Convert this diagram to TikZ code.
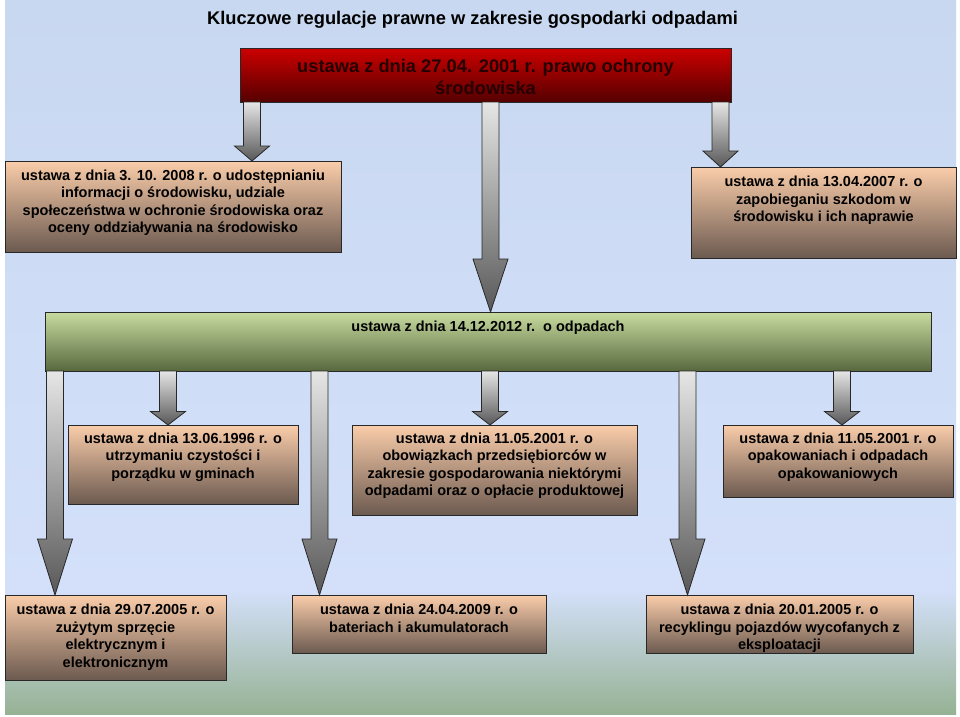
\documentclass[tikz,border=0pt]{standalone}
\usepackage{fontspec}
\setmainfont{Liberation Sans}
\usetikzlibrary{calc}
\definecolor{bgtop}{RGB}{200,216,240}
\definecolor{bgmid}{RGB}{212,224,250}
\definecolor{bgbot}{RGB}{150,178,148}
\definecolor{peachtop}{RGB}{250,205,170}
\definecolor{peachbot}{RGB}{108,90,80}
\definecolor{redtop}{RGB}{205,0,0}
\definecolor{redbot}{RGB}{85,0,0}
\definecolor{greentop}{RGB}{200,220,160}
\definecolor{greenbot}{RGB}{88,104,62}
\definecolor{edge}{RGB}{40,40,40}
\definecolor{arrtop}{RGB}{230,230,230}
\definecolor{arrbot}{RGB}{88,88,88}
\tikzset{
  boxbase/.style={draw=edge, line width=0.9pt, rectangle, inner sep=0pt, outer sep=0pt, anchor=north west},
  peachbox/.style={boxbase, top color=peachtop, bottom color=peachbot},
  redbox/.style={boxbase, top color=redtop, bottom color=redbot},
  greenbox/.style={boxbase, top color=greentop, bottom color=greenbot},
  txt/.style={anchor=north, align=center, inner sep=0pt, text=black, font=\bfseries\fontsize{14.5}{17.5}\selectfont},
  bigtxt/.style={anchor=north, align=center, inner sep=0pt, text=black!85!red, font=\bfseries\fontsize{18.3}{22}\selectfont},
  blkarr/.style={draw=edge, line width=0.8pt, top color=arrtop, bottom color=arrbot, line join=miter}
}
% #1 x, #2 source node, #3 target node, #4 head length
\newcommand\blkarrow[4]{%
  \path (#1,0) coordinate (ax);
  \path[blkarr] let \p1=(ax |- #2.south), \p2=(ax |- #3.north) in
    (\x1-8.5pt,\y1) -- (\x1-8.5pt,\y2+#4pt) -- (\x1-17.5pt,\y2+#4pt) -- (\x1,\y2)
    -- (\x1+17.5pt,\y2+#4pt) -- (\x1+8.5pt,\y2+#4pt) -- (\x1+8.5pt,\y1) -- cycle;
}
\begin{document}
\begin{tikzpicture}[x=1pt,y=-1pt]
\useasboundingbox (0,0) rectangle (960,716);
\fill[white] (0,0) rectangle (960,716);
\shade[top color=bgtop, bottom color=bgmid] (5,0) rectangle (956,590);
\shade[top color=bgmid, bottom color=bgbot] (5,589.5) rectangle (956,714);

\node[anchor=base, inner sep=0pt, font=\bfseries\fontsize{18.3}{22}\selectfont] (title) at (472.5,24.5)
  {Kluczowe regulacje prawne w zakresie gospodarki odpadami};

% boxes
\node[redbox, minimum width=491, minimum height=54] (red) at (240,48) {};
\node[bigtxt] (redt) at (red.north) [yshift=-11pt] {ustawa z dnia 27.04. 2001 r. prawo ochrony\\ środowiska};

\node[peachbox, minimum width=336, minimum height=91] (b1) at (5,161) {};
\node[txt] (b1t) at (b1.north) [yshift=-8.5pt] {ustawa z dnia 3. 10. 2008 r. o udostępnianiu\\ informacji o środowisku, udziale\\ społeczeństwa w ochronie środowiska oraz\\ oceny oddziaływania na środowisko};

\node[peachbox, minimum width=265, minimum height=91] (b2) at (691,167) {};
\node[txt] (b2t) at (b2.north) [yshift=-9pt] {ustawa z dnia 13.04.2007 r. o\\ zapobieganiu szkodom w\\ środowisku i ich naprawie};

\node[greenbox, minimum width=886, minimum height=59] (green) at (45,312) {};
\node[txt] (greent) at (green.north) [yshift=-9pt] {ustawa z dnia 14.12.2012 r.\ \ o odpadach};

\node[peachbox, minimum width=230, minimum height=79] (m1) at (68,425) {};
\node[txt] (m1t) at (m1.north) [yshift=-7.5pt] {ustawa z dnia 13.06.1996 r. o\\ utrzymaniu czystości i\\ porządku w gminach};

\node[peachbox, minimum width=285, minimum height=90] (m2) at (352,425) {};
\node[txt] (m2t) at (m2.north) [yshift=-7.5pt] {ustawa z dnia 11.05.2001 r. o\\ obowiązkach przedsiębiorców w\\ zakresie gospodarowania niektórymi\\ odpadami oraz o opłacie produktowej};

\node[peachbox, minimum width=230, minimum height=72] (m3) at (723,425) {};
\node[txt] (m3t) at (m3.north) [yshift=-7.5pt] {ustawa z dnia 11.05.2001 r. o\\ opakowaniach i odpadach\\ opakowaniowych};

\node[peachbox, minimum width=221, minimum height=85] (c1) at (5,595) {};
\node[txt] (c1t) at (c1.north) [yshift=-9pt] {ustawa z dnia 29.07.2005 r. o\\ zużytym sprzęcie\\ elektrycznym i\\ elektronicznym};

\node[peachbox, minimum width=254, minimum height=58] (c2) at (292,595) {};
\node[txt] (c2t) at (c2.north) [yshift=-9pt] {ustawa z dnia 24.04.2009 r. o\\ bateriach i akumulatorach};

\node[peachbox, minimum width=267, minimum height=58] (c3) at (646,595) {};
\node[txt] (c3t) at (c3.north) [yshift=-9pt] {ustawa z dnia 20.01.2005 r. o\\ recyklingu pojazdów wycofanych z\\ eksploatacji};

% arrows
\blkarrow{252}{red}{b1}{15}
\blkarrow{490.5}{red}{green}{53}
\blkarrow{720.5}{red}{b2}{16}

\blkarrow{55}{green}{c1}{56}
\blkarrow{168}{green}{m1}{13.5}
\blkarrow{319.5}{green}{c2}{56}
\blkarrow{490}{green}{m2}{13.5}
\blkarrow{687.5}{green}{c3}{56}
\blkarrow{842}{green}{m3}{13.5}
\end{tikzpicture}
\end{document}
